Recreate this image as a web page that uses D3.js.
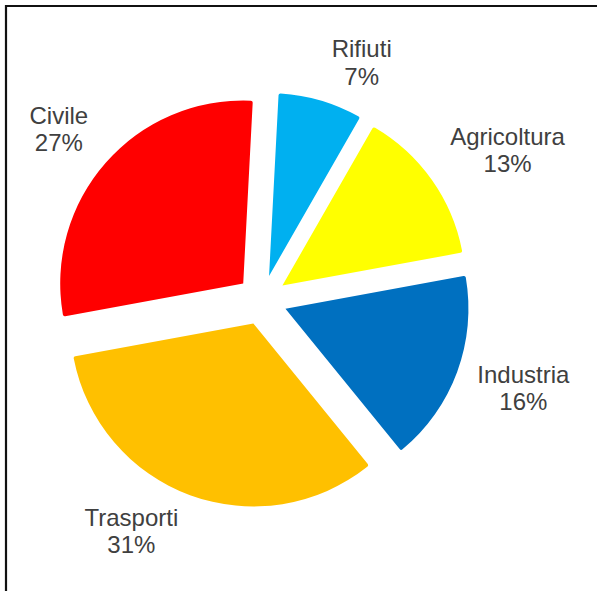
<!DOCTYPE html>
<html>
<head>
<meta charset="utf-8">
<script src="https://cdn.jsdelivr.net/npm/d3@7"></script>
<style>
  body { margin: 0; background: #fff; }
</style>
</head>
<body>
<script>
// data
var categories = ["Rifiuti", "Agricoltura", "Industria", "Trasporti", "Civile"];
var values = [7, 13, 16, 31, 27];
var sliceColors = ["#00B0F0", "#FFFF00", "#0070C0", "#FFC000", "#FF0000"];

//^^^^^^^^^^^^^^^^^^^^^^^^^^^^^^^^^^^^^^^^^^^^^^^^^^^^^^^^^^^^^^^^^^^^^^^^^^^^
// Layout
//----------------------------------------------------------------------------
var width = 597,
    height = 591,
    cx = 262,
    cy = 300,
    radius = 183,
    explode = 25,
    labelR = 222,
    labelPad = 7,
    fontSize = 24,
    lineGap = 27.5,
    start = 3 * Math.PI / 180;

var svg = d3.select("body").append("svg")
    .attr("width", width)
    .attr("height", height);

svg.append("rect")
    .attr("width", width)
    .attr("height", height)
    .attr("fill", "#fff");

// frame, only its top and left edges fall inside the picture
svg.append("path")
    .attr("d", "M6," + (height + 5) + "V6H" + (width + 5))
    .attr("fill", "none")
    .attr("stroke", "#111")
    .attr("stroke-width", 2.2);

var color = d3.scaleOrdinal()
    .domain(categories)
    .range(sliceColors);

var pie = d3.pie()
    .sort(null)
    .value(function(d) { return d.value; })
    .startAngle(start)
    .endAngle(start + 2 * Math.PI);

var arcs = pie(categories.map(function(c, i) {
    return { name: c, value: values[i] };
}));

var arc = d3.arc()
    .innerRadius(0)
    .outerRadius(radius)
    .cornerRadius(2);

function dir(d) {
    var a = (d.startAngle + d.endAngle) / 2;
    return [Math.sin(a), -Math.cos(a)];
}

var g = svg.append("g")
    .attr("transform", "translate(" + cx + "," + cy + ")");

g.selectAll("path.slice")
    .data(arcs)
    .join("path")
    .attr("class", "slice")
    .attr("d", arc)
    .attr("fill", function(d) { return color(d.data.name); })
    .attr("transform", function(d) {
        var v = dir(d);
        return "translate(" + (v[0] * explode) + "," + (v[1] * explode) + ")";
    });

//^^^^^^^^^^^^^^^^^^^^^^^^^^^^^^^^^^^^^^^^^^^^^^^^^^^^^^^^^^^^^^^^^^^^^^^^^^^^
// Labels sit outside the slices, pushed off the anchor point on the bisector
//----------------------------------------------------------------------------
var labels = g.selectAll("text.label")
    .data(arcs)
    .join("text")
    .attr("class", "label")
    .attr("font-family", "'Liberation Sans', Arial, sans-serif")
    .attr("font-size", fontSize)
    .attr("fill", "#404040")
    .attr("text-anchor", "middle");

labels.append("tspan")
    .attr("x", 0)
    .attr("y", 0)
    .text(function(d) { return d.data.name; });

labels.append("tspan")
    .attr("x", 0)
    .attr("dy", lineGap)
    .text(function(d) { return d.data.value + "%"; });

labels.each(function(d) {
    var b = this.getBBox(),
        v = dir(d),
        px = v[0] * labelR,
        py = v[1] * labelR;
    // box measured from cap top of first line to baseline of second
    var top = -0.72 * fontSize,
        bottom = lineGap + 0.1 * fontSize,
        midY = (top + bottom) / 2,
        halfH = (bottom - top) / 2;
    var sx = v[0] >= 0 ? 1 : -1;
    var tx = px + sx * (b.width / 2 + labelPad) - (b.x + b.width / 2);
    var k = Math.max(-1, Math.min(1, v[1] * 1.5));
    var ty = py + k * halfH - midY;
    d3.select(this).attr("transform", "translate(" + tx + "," + ty + ")");
});
</script>
</body>
</html>
